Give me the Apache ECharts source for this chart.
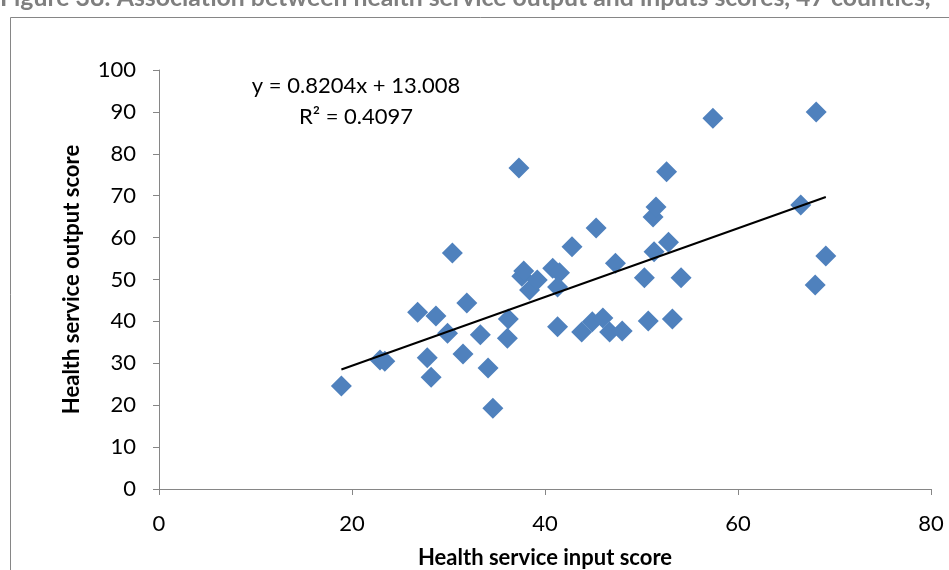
<!DOCTYPE html>
<html>
<head>
<meta charset="utf-8">
<script src="https://cdn.jsdelivr.net/npm/echarts@6/dist/echarts.min.js"></script>
<style>
html,body{margin:0;padding:0;background:#fff;}
#chart{width:949px;height:570px;}
</style>
</head>
<body>
<div id="chart"></div>
<script>
// Health service input score (x) for each county
const inputScores = [18.9, 22.9, 23.4, 26.8, 27.8, 28.2, 28.7, 29.9, 30.4, 31.5,
  31.9, 33.3, 34.1, 34.6, 36.1, 36.2, 37.3, 37.6, 37.8, 38.4,
  39.2, 40.8, 41.5, 41.3, 41.3, 42.8, 43.8, 44.9, 45.3, 46.0,
  46.7, 47.3, 48.0, 50.3, 50.7, 51.2, 51.5, 51.3, 52.6, 52.8,
  53.2, 54.1, 57.4, 66.5, 68.0, 68.1, 69.1];
// Health service output score (y) for each county
const outputScores = [24.6, 30.8, 30.5, 42.2, 31.3, 26.7, 41.3, 37.2, 56.3, 32.2,
  44.4, 36.8, 28.9, 19.3, 36.0, 40.6, 76.6, 50.8, 52.0, 47.5,
  49.9, 52.7, 51.6, 38.7, 48.2, 57.8, 37.5, 39.9, 62.3, 40.8,
  37.5, 53.9, 37.7, 50.4, 40.1, 64.9, 67.3, 56.6, 75.7, 58.9,
  40.6, 50.4, 88.5, 67.8, 48.7, 90.0, 55.6];
// Linear trendline as reported on the chart
const trendSlope = 0.8204;
const trendIntercept = 13.008;
const trendR2 = 0.4097;
const xTicks = [0, 20, 40, 60, 80];
const yTicks = [0, 10, 20, 30, 40, 50, 60, 70, 80, 90, 100];

const titleText = 'Figure 38: Association between health service output and inputs scores, 47 counties,';
const xTitle = 'Health service input score';
const yTitle = 'Health service output score';

const points = inputScores.map((x, i) => [x, outputScores[i]]);
const xMin = Math.min(...inputScores), xMax = Math.max(...inputScores);
const trend = [[xMin, trendSlope * xMin + trendIntercept], [xMax, trendSlope * xMax + trendIntercept]];

const FONT = 'Lato, "Open Sans", sans-serif';
const axisCol = '#868686';

const chart = echarts.init(document.getElementById('chart'), null, {renderer: 'canvas'});
chart.setOption({
  animation: false,
  backgroundColor: '#fff',
  grid: {left: 159, right: 18, top: 70, bottom: 81, containLabel: false, outerBoundsMode: 'none'},
  xAxis: {
    type: 'value', min: xTicks[0], max: xTicks[xTicks.length - 1], interval: 20,
    splitLine: {show: false},
    axisLine: {show: true, onZero: false, lineStyle: {color: axisCol, width: 1}},
    axisTick: {show: true, inside: false, length: 6, lineStyle: {color: axisCol}},
    axisLabel: {color: '#000', fontFamily: FONT, fontSize: 22, margin: 24},
    name: xTitle, nameLocation: 'middle', nameGap: 58,
    nameTextStyle: {color: '#000', fontFamily: FONT, fontSize: 22, fontWeight: 'bold'}
  },
  yAxis: {
    type: 'value', min: yTicks[0], max: yTicks[yTicks.length - 1], interval: 10,
    splitLine: {show: false},
    axisLine: {show: true, onZero: false, lineStyle: {color: axisCol, width: 1}},
    axisTick: {show: true, inside: false, length: 6, lineStyle: {color: axisCol}},
    axisLabel: {color: '#000', fontFamily: FONT, fontSize: 22, margin: 23},
    name: yTitle, nameLocation: 'middle', nameGap: 76, nameRotate: 90,
    nameTextStyle: {color: '#000', fontFamily: FONT, fontSize: 22, fontWeight: 'bold'}
  },
  series: [
    {
      type: 'scatter', data: points, symbol: 'diamond', symbolSize: 21,
      itemStyle: {color: '#4F81BD', opacity: 1}, z: 2
    },
    {
      type: 'line', data: trend, symbol: 'none', z: 3,
      lineStyle: {color: '#000', width: 2}
    }
  ],
  graphic: [
    {type: 'rect', shape: {x: 10.5, y: 17.5, width: 1200, height: 1000},
     style: {fill: 'none', stroke: '#868686', lineWidth: 1}, z: -1},
    {type: 'text', left: 0, top: -14,
     style: {text: titleText, font: 'bold 24.8px ' + FONT, fill: '#7f7f7f'}},
    {type: 'text', x: 356, y: 86,
     style: {text: 'y = ' + trendSlope + 'x + ' + trendIntercept.toFixed(3), font: '22px ' + FONT, fill: '#000', align: 'center', verticalAlign: 'middle'}},
    {type: 'text', x: 356, y: 117,
     style: {text: 'R² = ' + trendR2, font: '22px ' + FONT, fill: '#000', align: 'center', verticalAlign: 'middle'}}
  ]
});
</script>
</body>
</html>
